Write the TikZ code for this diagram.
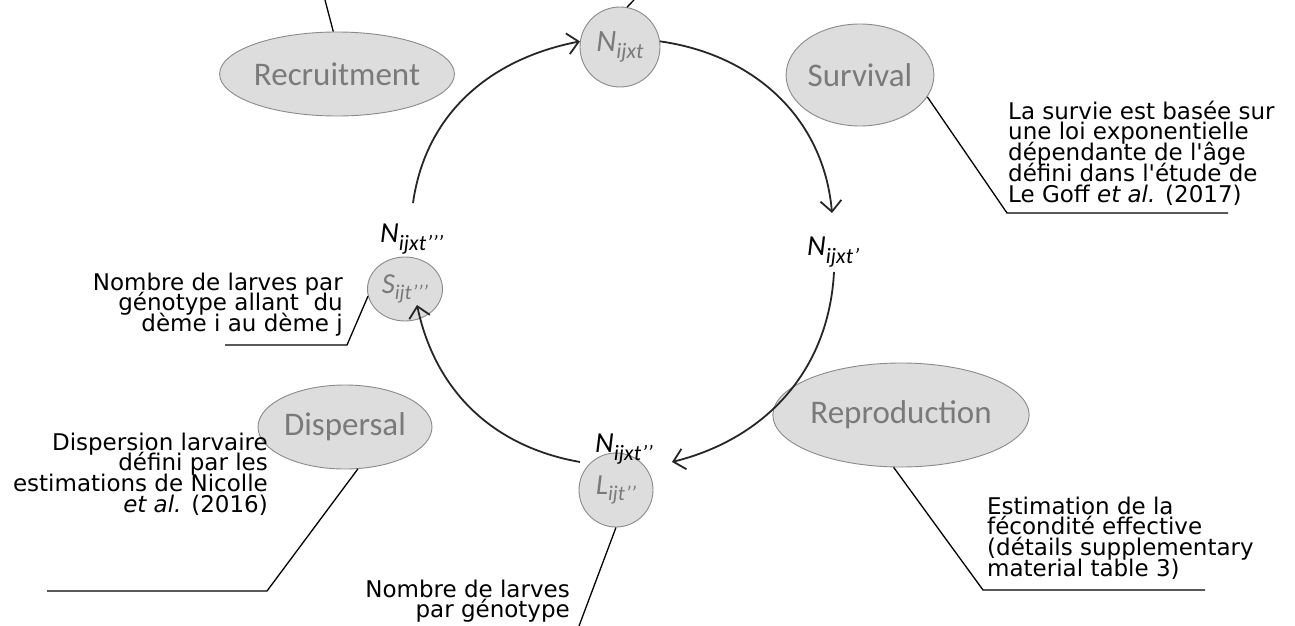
\documentclass[tikz,border=0pt]{standalone}
\usepackage{fontspec}
\setmainfont{DejaVu Sans}[Ligatures=TeXOff]
\newfontfamily\calfont{Carlito}
\usetikzlibrary{shapes.geometric,arrows.meta}
\definecolor{ellfill}{HTML}{DDDDDD}
\definecolor{elldraw}{HTML}{8A8A8A}
\definecolor{elltext}{HTML}{7A7A7A}
\newcommand\Lsub[3]{\raisebox{-#3}{\fontsize{#2}{#2}\selectfont #1}}
\newcommand\notefont{\fontsize{23}{20.7}\selectfont\lineskiplimit=-100pt\relax\lineskip=0pt\relax}
\begin{document}
\begin{tikzpicture}[x=1pt,y=1pt,
  phase/.style={ellipse, draw=elldraw, line width=0.9pt, fill=ellfill, inner sep=0pt,
    text=elltext, font=\calfont\fontsize{33}{33}\selectfont},
  state/.style={ellipse, draw=elldraw, line width=0.9pt, fill=ellfill, inner sep=0pt,
    text=elltext, font=\calfont\itshape\fontsize{31}{31}\selectfont},
  small state/.style={state, font=\calfont\itshape\fontsize{29}{29}\selectfont},
  note/.style={inner sep=0pt, text=black, font=\notefont},
  lead/.style={line width=1.3pt, draw=black},
  cyc/.style={line width=1.8pt, draw=black!85, -{Straight Barb[length=11pt,width=21pt]}},
  lab/.style={inner sep=0pt, text=black, font=\calfont\itshape\fontsize{29}{29}\selectfont}
]
\useasboundingbox (0,0) rectangle (1295,-626);

% phases
\node[phase, minimum width=220pt, minimum height=84pt] (rec) at (337,-74) {Recruitment};
\node[phase, minimum width=126pt, minimum height=102pt] (surv) at (860,-75) {Survival};
\node[phase, minimum width=208pt, minimum height=104pt] (repro) at (901,-415) {Reproduction};
\node[phase, minimum width=174pt, minimum height=84pt] (disp) at (345,-427) {Dispersal};

% states
\node[state, minimum width=80pt, minimum height=80pt] (N1) at (620,-47) {N\Lsub{ijxt}{22pt}{7pt}};
\node[small state, minimum width=75pt, minimum height=64pt] (S) at (405,-289) {S\Lsub{ijt’’’}{21pt}{6pt}};
\node[small state, minimum width=74pt, minimum height=74pt] (L) at (616,-490) {L\Lsub{ijt’’}{21pt}{6pt}};

% black labels
\node[lab, anchor=base west] (n3) at (380,-242) {N\Lsub{ijxt’’’}{22pt}{8pt}};
\node[lab, anchor=base west] (n2) at (595,-452) {N\Lsub{ijxt’’}{22pt}{8pt}};
\node[lab, anchor=base west] (n1p) at (807,-255) {N\Lsub{ijxt’}{22pt}{8pt}};

% notes
\node[note, anchor=north west, align=left] (tsurv) at (1008,-99)
  {\rule{0pt}{20pt}La survie est basée sur\\une loi exponentielle\\dépendante de l'âge\\défini dans l'étude de\\Le Goff \textit{et al.} (2017)};
\node[note, anchor=north west, align=left] (trepro) at (987,-494)
  {\rule{0pt}{20pt}Estimation de la\\fécondité effective\\(détails supplementary\\material table 3)};
\node[note, anchor=north east, align=right] (tdisp) at (268,-430)
  {\rule{0pt}{20pt}Dispersion larvaire\\défini par les\\estimations de Nicolle\\\textit{et al.} (2016)};
\node[note, anchor=north east, align=right] (tS) at (343,-270)
  {\rule{0pt}{20pt}Nombre de larves par\\génotype allant\ \ du\\dème i au dème j};
\node[note, anchor=north east, align=right] (tL) at (570,-577)
  {\rule{0pt}{20pt}Nombre de larves\\par génotype};

% leader lines
\coordinate (recE) at (325,0);
\coordinate (N1E) at (634,0);
\coordinate (survK) at (1007,-213);
\coordinate (survE) at (1228,-213);
\coordinate (reproK) at (983,-590);
\coordinate (reproE) at (1205,-590);
\coordinate (dispK) at (267,-591);
\coordinate (dispE) at (47,-591);
\coordinate (SK) at (347,-345);
\coordinate (SE) at (225,-345);
\coordinate (LE) at (579,-626);
\draw[lead] (rec.95) -- (recE);
\draw[lead] (N1.80) -- (N1E);
\draw[lead] (surv.-18) -- (survK) -- (survE);
\draw[lead] (repro.-98) -- (reproK) -- (reproE);
\draw[lead] (disp.-73) -- (dispK) -- (dispE);
\draw[lead] (S.191) -- (SK) -- (SE);
\draw[lead] (L.south) -- (LE);

% life cycle
\coordinate (cA) at (413,-203);
\coordinate (cB) at (832,-213);
\coordinate (cC1) at (834,-272);
\coordinate (cC2) at (672,-462);
\coordinate (cD1) at (580,-462);
\coordinate (cD2) at (417,-305);
\draw[cyc] (cA) to[out=82, in=191] (N1.172);
\draw[cyc] (N1.8) to[out=-8, in=95] (cB);
\draw[cyc] (cC1) to[out=-93, in=14] (cC2);
\draw[cyc] (cD1) to[out=170, in=-78] (cD2);
\end{tikzpicture}
\end{document}
